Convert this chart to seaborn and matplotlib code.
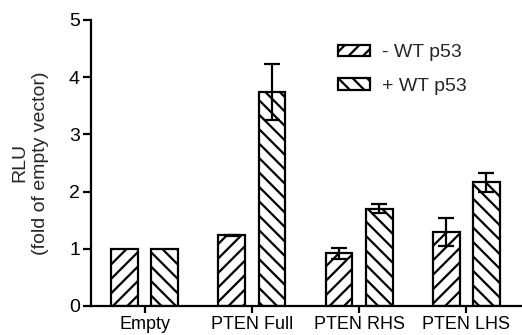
import matplotlib
matplotlib.use("Agg")
import matplotlib.pyplot as plt
import seaborn as sns
import pandas as pd
import numpy as np
from matplotlib.patches import Patch

categories = ["Empty", "PTEN Full", "PTEN RHS", "PTEN LHS"]
groups = ["- WT p53", "+ WT p53"]
minus_vals = [1.0, 1.24, 0.92, 1.29]
plus_vals = [1.0, 3.74, 1.70, 2.16]
minus_err = [0.0, 0.01, 0.10, 0.24]
plus_err = [0.0, 0.49, 0.08, 0.16]
hatches = ["///", "\\\\\\"]

df = pd.DataFrame({
    "cat": categories * 2,
    "grp": [groups[0]] * 4 + [groups[1]] * 4,
    "val": minus_vals + plus_vals,
    "err": minus_err + plus_err,
})

DPI = 130
S = 100.0 / DPI  # keep point sizes equal in pixels to a 100-dpi render

sns.set_style("white")
plt.rcParams["font.family"] = ["Liberation Sans", "DejaVu Sans"]
plt.rcParams["hatch.linewidth"] = 1.6 * S
plt.rcParams["hatch.color"] = "black"

fig = plt.figure(figsize=(522 / DPI, 335 / DPI), dpi=DPI)
ax = fig.add_axes([91 / 522, 1 - 306 / 335, 431 / 522, 286 / 335])

LW = 1.6 * S
sns.barplot(data=df, x="cat", y="val", hue="grp", order=categories, hue_order=groups,
            errorbar=None, width=0.75, gap=0.333, palette=["white", "white"],
            edgecolor="black", linewidth=LW, ax=ax, legend=False)

bar_containers = list(ax.containers)
for ci, cont in enumerate(bar_containers[:2]):
    sub = df[df["grp"] == groups[ci]].set_index("cat").loc[categories]
    xs = []
    for bar in cont:
        bar.set_hatch(hatches[ci])
        bar.set_facecolor("white")
        bar.set_edgecolor("black")
        xs.append(bar.get_x() + bar.get_width() / 2)
    xs = np.array(xs)
    mask = sub["err"].values > 0
    ax.errorbar(xs[mask], sub["val"].values[mask], yerr=sub["err"].values[mask],
                fmt="none", ecolor="black", elinewidth=LW, capsize=6 * S, capthick=LW, zorder=5)

ax.set_xlim(-0.5, 3.52)
ax.set_ylim(0, 5)
ax.set_yticks([0, 1, 2, 3, 4, 5])
ax.set_xlabel("")
ax.set_ylabel("RLU\n(fold of empty vector)", fontsize=14 * S, labelpad=14 * S, linespacing=1.3)

for s in ["top", "right"]:
    ax.spines[s].set_visible(False)
for s in ["left", "bottom"]:
    ax.spines[s].set_linewidth(LW)
    ax.spines[s].set_color("black")

ax.tick_params(axis="y", direction="out", length=6 * S, width=LW, labelsize=14 * S, pad=2 * S,
               left=True, colors="black")
ax.tick_params(axis="x", direction="out", length=5 * S, width=LW, labelsize=13 * S, pad=2 * S,
               bottom=True, colors="black")

handles = [Patch(facecolor="white", edgecolor="black", hatch=h, linewidth=LW, label=g)
           for h, g in zip(hatches, groups)]
ax.legend(handles=handles, loc="upper left", bbox_to_anchor=(0.573, 0.915), frameon=False,
          fontsize=14 * S, handlelength=1.65, handleheight=0.55, handletextpad=0.6,
          labelspacing=0.85, borderpad=0, borderaxespad=0)

fig.savefig("out.png", dpi=DPI)
